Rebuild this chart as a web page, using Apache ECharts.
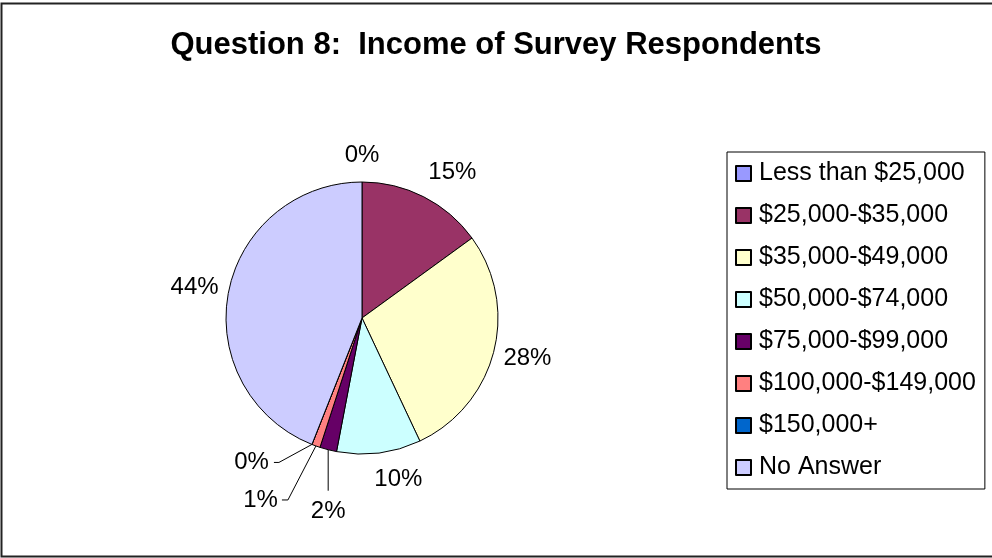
<!DOCTYPE html>
<html>
<head>
<meta charset="utf-8">
<title>Question 8: Income of Survey Respondents</title>
<script src="https://cdn.jsdelivr.net/npm/echarts@6/dist/echarts.min.js"></script>
<style>
  html, body { margin: 0; padding: 0; background: #ffffff; }
  #chart { width: 992px; height: 558px; }
</style>
</head>
<body>
<div id="chart"></div>
<script>
// Income brackets, in legend order (clockwise from 12 o'clock)
const categories = [
  'Less than $25,000',
  '$25,000-$35,000',
  '$35,000-$49,000',
  '$50,000-$74,000',
  '$75,000-$99,000',
  '$100,000-$149,000',
  '$150,000+',
  'No Answer'
];

// Share of respondents in each bracket (percent)
const shares = [0, 15, 28, 10, 2, 1, 0, 44];

// Classic office palette for the slices
const sliceColors = ['#9999FF', '#993366', '#FFFFCC', '#CCFFFF', '#660066', '#FF8080', '#0066CC', '#CCCCFF'];

const titleText = 'Question 8:  Income of Survey Respondents';

const chart = echarts.init(document.getElementById('chart'), null, { renderer: 'canvas' });

// Slices whose labels sit away from the pie on a leader line
const leaderSlices = [4, 5, 6];

function clamp(v, lo, hi) { return Math.max(lo, Math.min(hi, v)); }

function placeLabel(p) {
  const data = chart.getModel().getSeriesByIndex(0).getData();
  const lay = data.getItemLayout(p.dataIndex);
  if (!lay) return {};
  const mid = (lay.startAngle + lay.endAngle) / 2;
  const ux = Math.cos(mid), uy = Math.sin(mid);
  const ex = lay.cx + lay.r * ux, ey = lay.cy + lay.r * uy;
  const w = p.labelRect.width, h = p.labelRect.height;
  const i = p.dataIndex;
  if (i === 4) {
    // straight drop below the slice
    return {
      x: ex, y: ey + 49, align: 'center', verticalAlign: 'top',
      labelLinePoints: [[ex, ey], [ex, ey + 41]]
    };
  }
  if (i === 5) {
    return {
      x: ex - 38, y: ey + 54, align: 'right', verticalAlign: 'middle',
      labelLinePoints: [[ex, ey], [ex - 28, ey + 54], [ex - 34, ey + 54]]
    };
  }
  if (i === 6) {
    return {
      x: ex - 43, y: ey + 18, align: 'right', verticalAlign: 'middle',
      labelLinePoints: [[ex, ey], [ex - 33, ey + 18], [ex - 38, ey + 18]]
    };
  }
  // other labels float just outside the rim, pushed off to the side they face
  const d = lay.r + 10;
  return {
    x: lay.cx + d * ux + (w / 2) * clamp(ux * 6, -1, 1),
    y: lay.cy + d * uy + (h / 2) * 1.3 * uy,
    align: 'center', verticalAlign: 'middle'
  };
}

const pieData = categories.map(function (name, i) {
  return {
    name: name,
    value: shares[i],
    itemStyle: { color: sliceColors[i] },
    labelLine: { show: leaderSlices.indexOf(i) >= 0 }
  };
});

chart.setOption({
  animation: false,
  backgroundColor: '#ffffff',
  title: {
    text: titleText,
    left: 'center',
    top: 25,
    textStyle: {
      fontFamily: 'Liberation Sans, Arial, sans-serif',
      fontWeight: 'bold',
      fontSize: 31,
      color: '#000000'
    }
  },
  legend: {
    orient: 'vertical',
    left: 727,
    top: 152,
    padding: [9, 9, 9, 8],
    itemGap: 17,
    itemWidth: 15,
    itemHeight: 15,
    icon: 'rect',
    borderColor: '#000000',
    borderWidth: 1,
    selectedMode: false,
    data: categories,
    textStyle: {
      fontFamily: 'Liberation Sans, Arial, sans-serif',
      fontSize: 25,
      lineHeight: 25,
      color: '#000000',
      padding: [0, 0, 0, 3]
    }
  },
  graphic: [{
    type: 'rect',
    shape: { x: 1.5, y: 3.5, width: 1000, height: 553 },
    style: { fill: 'none', stroke: '#222222', lineWidth: 2 },
    silent: true,
    z: 100
  }],
  series: [{
    type: 'pie',
    center: [362, 318],
    radius: 136,
    startAngle: 90,
    clockwise: true,
    avoidLabelOverlap: false,
    stillShowZeroSum: true,
    data: pieData,
    itemStyle: { borderColor: '#000000', borderWidth: 1 },
    label: {
      show: true,
      position: 'outside',
      formatter: function (p) { return Math.round(p.percent) + '%'; },
      fontFamily: 'Liberation Sans, Arial, sans-serif',
      fontSize: 24,
      lineHeight: 26,
      color: '#000000'
    },
    labelLine: {
      lineStyle: { color: '#000000', width: 1 },
      length: 20,
      length2: 6
    },
    labelLayout: placeLabel,
    emphasis: { disabled: true }
  }]
});
</script>
</body>
</html>
